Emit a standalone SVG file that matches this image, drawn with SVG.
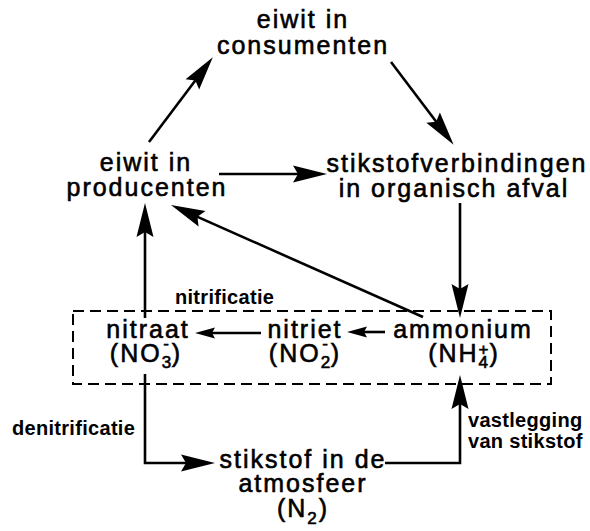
<svg xmlns="http://www.w3.org/2000/svg" width="590" height="531" viewBox="0 0 590 531">
<style>
.m{font-family:"Liberation Sans",Arial,sans-serif;font-size:25px;letter-spacing:2px;fill:#000;stroke:#000;stroke-width:0.6px;text-anchor:middle}
.s{font-size:17px;letter-spacing:0}
.l{font-family:"Liberation Sans",Arial,sans-serif;font-size:20px;font-weight:bold;letter-spacing:0.3px;fill:#000}
.c{fill:none;stroke:#000;stroke-width:2.6}
.bb{marker-end:url(#big)}
.sm{marker-end:url(#small)}
</style>
<defs>
<marker id="big" markerUnits="userSpaceOnUse" markerWidth="40" markerHeight="20" viewBox="0 -10 36 20" refX="24" refY="0" orient="auto">
<path d="M0,-8.5 L34,0 L0,8.5 L5,0 Z" fill="#000"/>
</marker>
<marker id="small" markerUnits="userSpaceOnUse" markerWidth="24" markerHeight="14" viewBox="0 -7 22 14" refX="13" refY="0" orient="auto">
<path d="M0,-5.5 L20,0 L0,5.5 L3,0 Z" fill="#000"/>
</marker>
</defs>
<rect x="0" y="0" width="590" height="531" fill="#fff"/>
<g id="soil-box">
<rect x="73" y="311" width="478" height="73" fill="none" stroke="#000" stroke-width="2" stroke-dasharray="11 6"/>
</g>
<g id="connectors">
<line class="c bb" x1="149" y1="142" x2="206.8" y2="65.2"/>
<line class="c bb" x1="391" y1="62" x2="447.6" y2="136.8"/>
<line class="c bb" x1="219" y1="174" x2="317" y2="174"/>
<line class="c bb" x1="460" y1="203" x2="460" y2="308"/>
<line class="c bb" x1="423" y1="317" x2="180.1" y2="209.1"/>
<line class="c bb" x1="145" y1="318" x2="145" y2="213"/>
<line class="c sm" x1="385" y1="332" x2="354" y2="332"/>
<line class="c sm" x1="261" y1="333" x2="202" y2="333"/>
<path class="c bb" d="M145,374 V463 H205"/>
<path class="c bb" d="M385,463 H460 V385"/>
<text class="l" x="175" y="304">nitrificatie</text>
<text class="l" x="12" y="435">denitrificatie</text>
<text class="l" x="468" y="427">vastlegging</text>
<text class="l" x="468" y="448">van stikstof</text>
</g>
<g id="consumenten">
<text class="m" x="303" y="28">eiwit in</text>
<text class="m" x="303" y="54">consumenten</text>
</g>
<g id="producenten">
<text class="m" x="146" y="171">eiwit in</text>
<text class="m" x="147" y="196">producenten</text>
</g>
<g id="organisch-afval">
<text class="m" x="457" y="172">stikstofverbindingen</text>
<text class="m" x="454" y="197">in organisch afval</text>
</g>
<g id="nitraat">
<text class="m" x="148" y="338">nitraat</text>
<text class="m" x="146" y="362">(NO<tspan class="s" dy="6">3</tspan><tspan class="s" dx="-8" dy="-19.5">-</tspan><tspan dx="3" dy="13.5">)</tspan></text>
</g>
<g id="nitriet">
<text class="m" x="305" y="338">nitriet</text>
<text class="m" x="305" y="362">(NO<tspan class="s" dy="6">2</tspan><tspan class="s" dx="-8" dy="-19.5">-</tspan><tspan dx="3" dy="13.5">)</tspan></text>
</g>
<g id="ammonium">
<text class="m" x="463" y="338">ammonium</text>
<text class="m" x="464" y="362">(NH<tspan class="s" dy="6">4</tspan><tspan class="s" dx="-9.5" dy="-13.5">+</tspan><tspan dx="1" dy="7.5">)</tspan></text>
</g>
<g id="atmosfeer">
<text class="m" x="303" y="468">stikstof in de</text>
<text class="m" x="303" y="492">atmosfeer</text>
<text class="m" x="303" y="517">(N<tspan class="s" dy="7">2</tspan><tspan dx="2" dy="-7">)</tspan></text>
</g>
</svg>
